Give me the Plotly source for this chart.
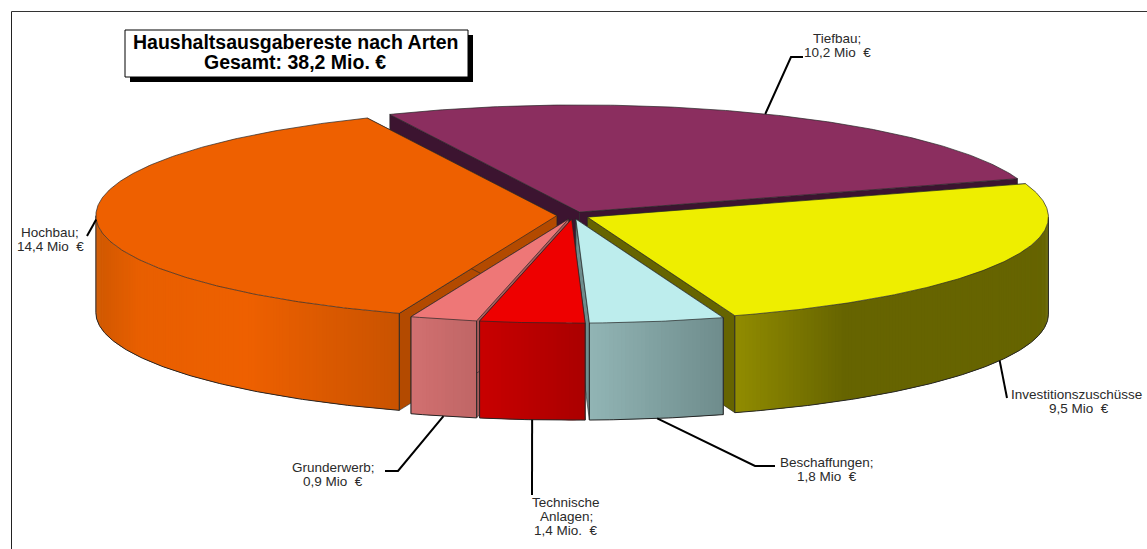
import numpy as np
import plotly.graph_objects as go

# Budget carry-overs by type (million EUR)
categories = ["Tiefbau", "Investitionszuschüsse", "Beschaffungen",
              "Technische Anlagen", "Grunderwerb", "Hochbau"]
values = [10.2, 9.5, 1.8, 1.4, 0.9, 14.4]
top_colors = ["#8b2e5f", "#eeee00", "#bdeded", "#ee0000", "#ee7777", "#ee6000"]
cut_colors = ["#3c1430", "#666400", "#6e8c8c", "#aa0000", "#a85c5c", "#b34a00"]
side_stops = [
    [(0, "#5c2040"), (1, "#5c2040")],
    [(0, "#918c00"), (0.35, "#666400"), (1, "#666400")],
    [(0, "#92b5b5"), (1, "#6e8c8c")],
    [(0, "#c80000"), (1, "#aa0000")],
    [(0, "#d27070"), (1, "#bf6666")],
    [(0, "#cf5800"), (0.14, "#e85f00"), (0.5, "#ee6000"), (1, "#c95300")],
]
label_lines = [
    ["Tiefbau;", "10,2 Mio  €"],
    ["Investitionszuschüsse", "9,5 Mio  €"],
    ["Beschaffungen;", "1,8 Mio  €"],
    ["Technische", "Anlagen;", "1,4 Mio.  €"],
    ["Grunderwerb;", "0,9 Mio  €"],
    ["Hochbau;", "14,4 Mio  €"],
]
label_centers = [(837, 38), (1079, 394), (827, 462), (566, 502), (333, 467), (50, 232)]
leader_bends = [
    [(791, 57), (803, 57)],
    [(1007, 398)],
    [(755, 466), (775, 466)],
    [(532, 495)],
    [(398, 471), (385, 471)],
    [(87, 236)],
]
title_lines = ["Haushaltsausgabereste nach Arten", "Gesamt: 38,2 Mio. €"]

# Drawing order, back to front
paint_order = [0, 5, 1, 2, 4, 3]

# Projection of the pie disc; the far half is stretched a little for perspective
CX, CY = 573.0, 215.5
RX, RY = 461.0, 104.0
FAR_STRETCH = 1.03
DEPTH = 97.0
EXPLODE = 0.035
START_DEG = -24.3
OUTLINE = "#262626"

total = sum(values)
spans = [v / total * 360 for v in values]
starts = START_DEG + np.concatenate([[0], np.cumsum(spans)[:-1]])


def project(deg, radius=1.0, origin=(CX, CY)):
    a = np.radians(deg)
    c = np.cos(a)
    ry = np.where(c > 0, RY * FAR_STRETCH, RY)
    return origin[0] + radius * RX * np.sin(a), origin[1] - radius * ry * c


def hex_rgb(c):
    return np.array([int(c[i:i + 2], 16) for i in (1, 3, 5)], dtype=float)


def blend(stops, t):
    xs = [s[0] for s in stops]
    rgb = [np.interp(t, xs, [hex_rgb(s[1])[k] for s in stops]) for k in range(3)]
    return "rgb({:.0f},{:.0f},{:.0f})".format(*rgb)


fig = go.Figure()


def poly(xs, ys, fill, line=None, width=0.0):
    fig.add_trace(go.Scatter(
        x=list(xs), y=list(ys), mode="lines", fill="toself", fillcolor=fill,
        line=dict(color=line or fill, width=width), hoverinfo="skip", showlegend=False,
    ))


def stroke(xs, ys, color=OUTLINE, width=1.0):
    fig.add_trace(go.Scatter(
        x=list(xs), y=list(ys), mode="lines", line=dict(color=color, width=width),
        hoverinfo="skip", showlegend=False,
    ))


for i in paint_order:
    a0, a1 = starts[i], starts[i] + spans[i]
    mid = (a0 + a1) / 2
    apex = tuple(float(v) for v in project(mid, EXPLODE))
    arc = np.linspace(a0, a1, max(int(spans[i] * 2), 8))
    ax, ay = project(arc, 1.0, apex)

    # Cut faces that run from the centre out to the rim
    for a in (a0, a1):
        rx, ry = (float(v) for v in project(a, 1.0, apex))
        poly([apex[0], rx, rx, apex[0], apex[0]],
             [apex[1], ry, ry + DEPTH, apex[1] + DEPTH, apex[1]],
             cut_colors[i], OUTLINE, 0.6)

    # Curved outer wall, only where it faces the viewer
    lo, hi = max(a0, 90.0), min(a1, 270.0)
    if hi > lo:
        wall = np.arange(lo, hi + 0.5, 0.5)
        wall[-1] = hi
        wx, wy = project(wall, 1.0, apex)
        xmin, xmax = wx.min(), wx.max()
        for k in range(len(wall) - 1):
            j = min(k + 2, len(wall) - 1)
            t = ((wx[k] + wx[k + 1]) / 2 - xmin) / (xmax - xmin)
            poly([wx[k], wx[j], wx[j], wx[k], wx[k]],
                 [wy[k], wy[j], wy[j] + DEPTH, wy[k] + DEPTH, wy[k]],
                 blend(side_stops[i], t))
        stroke(wx, wy + DEPTH)
        stroke([wx[0], wx[0]], [wy[0], wy[0] + DEPTH])
        stroke([wx[-1], wx[-1]], [wy[-1], wy[-1] + DEPTH])

    # Top face
    poly(np.r_[apex[0], ax, apex[0]], np.r_[apex[1], ay, apex[1]],
         top_colors[i], OUTLINE, 0.7)

# Leader lines start at the rim of each slice, at its middle angle
for i, bends in enumerate(leader_bends):
    mid = starts[i] + spans[i] / 2
    sx, sy = (float(v) for v in project(mid, 1.0, project(mid, EXPLODE)))
    front = np.cos(np.radians(mid)) < -0.2
    sy = sy + (DEPTH if front else 0)
    stroke([sx] + [b[0] for b in bends], [sy] + [b[1] for b in bends], "#000000", 2)

annotations = []
for lines, (cx, cy), name in zip(label_lines, label_centers, categories):
    for n, text in enumerate(lines):
        left = name.startswith("Investition") and n == 0
        annotations.append(dict(
            x=1009 if left else cx, y=cy + n * 14, xref="x", yref="y", text=text,
            showarrow=False, xanchor="left" if left else "center", yanchor="middle",
            font=dict(family="Liberation Sans, Arial, sans-serif", size=13.5, color="#2a2a2a"),
        ))
for n, text in enumerate(title_lines):
    annotations.append(dict(
        x=295, y=42 + n * 20, xref="x", yref="y", text="<b>" + text + "</b>", showarrow=False,
        xanchor="center", yanchor="middle",
        font=dict(family="Liberation Sans, Arial, sans-serif", size=19.5, color="#000000"),
    ))

shapes = [
    dict(type="line", x0=11.5, x1=11.5, y0=11.5, y1=549, line=dict(color="#222222", width=1), layer="below"),
    dict(type="line", x0=11.5, x1=1147, y0=11.5, y1=11.5, line=dict(color="#333333", width=1), layer="below"),
    dict(type="rect", x0=130, x1=473, y0=35, y1=82, fillcolor="#000000", line=dict(width=0), layer="above"),
    dict(type="rect", x0=125, x1=468, y0=30, y1=77, fillcolor="#ffffff",
         line=dict(color="#000000", width=1), layer="above"),
]

fig.update_layout(
    width=1147, height=549, margin=dict(l=0, r=0, t=0, b=0),
    paper_bgcolor="#ffffff", plot_bgcolor="#ffffff", showlegend=False,
    xaxis=dict(range=[0, 1147], visible=False, fixedrange=True),
    yaxis=dict(range=[549, 0], visible=False, fixedrange=True),
    shapes=shapes, annotations=annotations,
)
fig.write_html("out.html", config=dict(displayModeBar=False))
